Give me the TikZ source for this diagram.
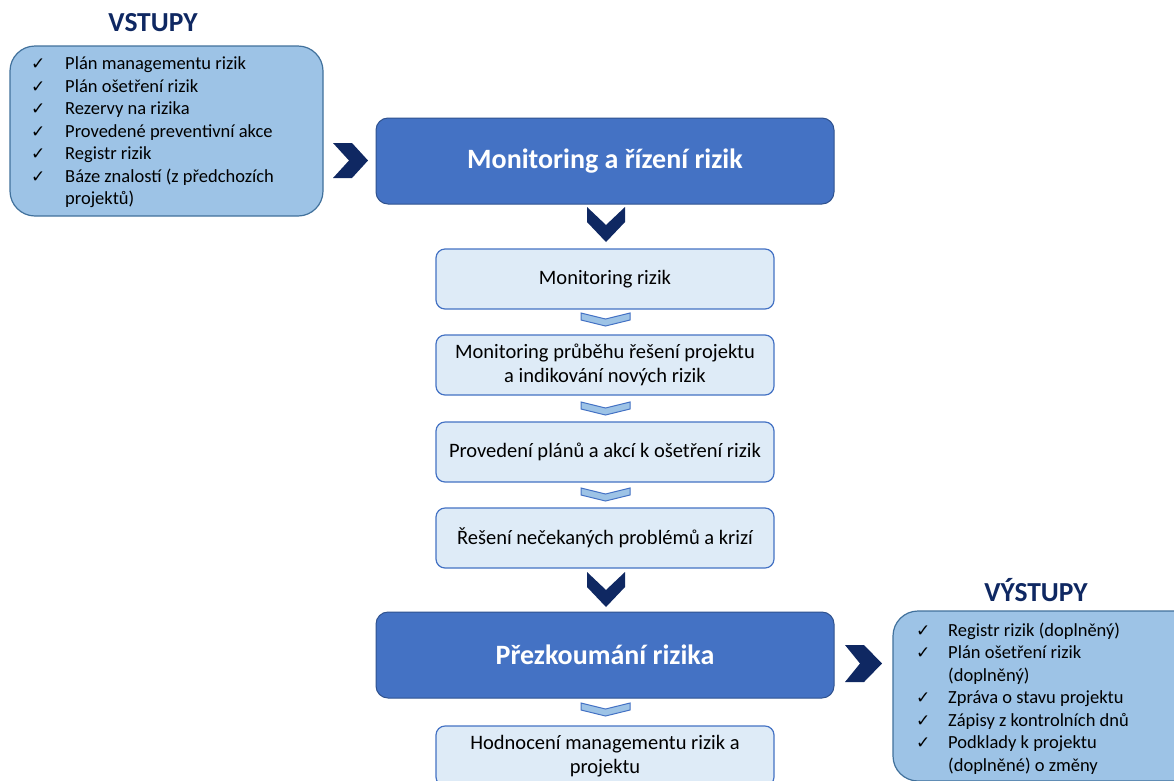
\documentclass[tikz,border=0pt]{standalone}
\usepackage{fontspec}
\setmainfont{Carlito}
\newfontfamily\symfont{DejaVu Sans}
\usepackage{array}
\definecolor{navy}{HTML}{0F2862}
\definecolor{midblue}{HTML}{9DC3E6}
\definecolor{midborder}{HTML}{41719C}
\definecolor{mainblue}{HTML}{4472C4}
\definecolor{mainborder}{HTML}{2F528F}
\definecolor{lightblue}{HTML}{DEEBF7}
\newcommand{\ck}{{\symfont\fontsize{17}{17}\selectfont ✓}}
\tikzset{
  listbox/.style={draw=midborder, fill=midblue, line width=1.2pt, rounded corners=25pt},
  mainbox/.style={draw=mainborder, fill=mainblue, line width=1pt, rounded corners=12pt,
     minimum width=458pt, minimum height=86pt, text=white, font=\bfseries\fontsize{28}{32}\selectfont},
  stepbox/.style={draw=mainblue, fill=lightblue, line width=1.2pt, rounded corners=9pt,
     minimum width=338pt, minimum height=60pt, align=center, font=\fontsize{20.5}{24}\selectfont},
  title/.style={text=navy, font=\bfseries\fontsize{27.5}{30}\selectfont},
  bigchev/.style={fill=navy},
  smallchev/.style={fill=midblue, draw=mainblue, line width=1pt},
  listtext/.style={anchor=north west, inner sep=0pt, font=\fontsize{18.5}{22.5}\selectfont}
}
\begin{document}
\begin{tikzpicture}[x=1pt,y=-1pt]
\useasboundingbox (0,0) rectangle (1174,780);
\clip (0,0) rectangle (1174,780);
\fill[white] (0,0) rectangle (1174,780);

% inputs
\node[title] (vstupy) at (153,23) {VSTUPY};
\draw[listbox] (10,46) rectangle (323,216);
\node[listtext] (inlist) at (31,54) {\begin{tabular}{@{}p{34pt}@{}l@{}}
\ck & Plán managementu rizik\\
\ck & Plán ošetření rizik\\
\ck & Rezervy na rizika\\
\ck & Provedené preventivní akce\\
\ck & Registr rizik\\
\ck & Báze znalostí (z předchozích\\
    & projektů)
\end{tabular}};

% main boxes
\node[mainbox] (mon) at (605,161) {Monitoring a řízení rizik};
\node[stepbox] (s1) at (605,279) {Monitoring rizik};
\node[stepbox] (s2) at (605,365) {Monitoring průběhu řešení projektu\\a indikování nových rizik};
\node[stepbox] (s3) at (605,452) {Provedení plánů a akcí k ošetření rizik};
\node[stepbox] (s4) at (605,538) {Řešení nečekaných problémů a krizí};
\node[mainbox] (rev) at (605,655) {Přezkoumání rizika};
\node[stepbox] (s5) at (605,756) {Hodnocení managementu rizik a\\projektu};

% big chevrons
\fill[bigchev] (333,143) -- (352,143) -- (368,160.5) -- (352,178) -- (333,178) -- (349,160.5) -- cycle;
\fill[bigchev] (587,207) -- (606,225) -- (625,207) -- (625,222) -- (606,242) -- (587,222) -- cycle;
\fill[bigchev] (587,572) -- (606,590) -- (625,572) -- (625,587) -- (606,607) -- (587,587) -- cycle;
\fill[bigchev] (845,645) -- (864,645) -- (882,663.5) -- (864,682) -- (845,682) -- (860,663.5) -- cycle;

% small chevrons
\foreach \yy in {313,402,488,703}{
  \draw[smallchev] (581,\yy) -- (605.5,\yy+6) -- (630,\yy) -- (630,\yy+7) -- (605.5,\yy+13) -- (581,\yy+7) -- cycle;
}

% outputs
\node[title] (vystupy) at (1036,590) {VÝSTUPY};
\draw[listbox] (893,611) rectangle (1210,781);
\node[listtext] (outlist) at (916,620.5) {\begin{tabular}{@{}p{32pt}@{}l@{}}
\ck & Registr rizik (doplněný)\\
\ck & Plán ošetření rizik\\
    & (doplněný)\\
\ck & Zpráva o stavu projektu\\
\ck & Zápisy z kontrolních dnů\\
\ck & Podklady k projektu\\
    & (doplněné) o změny
\end{tabular}};
\end{tikzpicture}
\end{document}
